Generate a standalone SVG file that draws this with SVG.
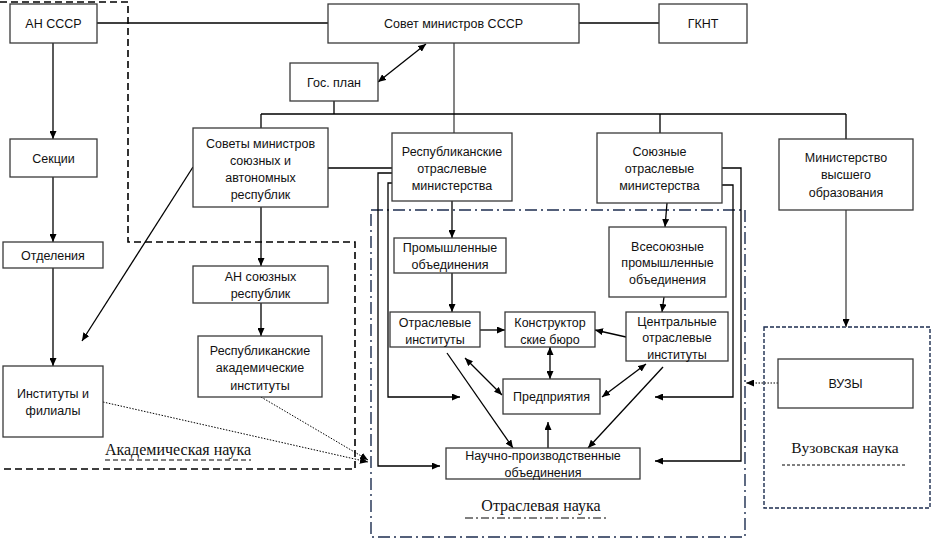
<svg xmlns="http://www.w3.org/2000/svg" width="931" height="539" viewBox="0 0 931 539">
<defs>
<marker id="a" markerUnits="userSpaceOnUse" markerWidth="8" markerHeight="7" refX="8" refY="3.5" orient="auto-start-reverse"><path d="M0,0 L8,3.5 L0,7 z" fill="#000"/></marker>
<style>
.b{fill:#fff;stroke:#3a3a3a;stroke-width:1.3}
.t{font-family:"Liberation Sans",Arial,sans-serif;font-size:12.5px;fill:#111;text-anchor:middle}
.s{font-family:"Liberation Serif","Times New Roman",serif;font-size:16px;fill:#111;text-anchor:middle}
.c{fill:none;stroke:#000;stroke-width:1.3}
.g{fill:none;stroke:#777;stroke-width:1.8}
.e{marker-end:url(#a)}
.d{marker-start:url(#a);marker-end:url(#a)}
.dot{fill:none;stroke:#000;stroke-width:1;stroke-dasharray:1.5 1.5}
</style>
</defs>
<rect width="931" height="539" fill="#fff"/>
<g id="regions">
<path d="M0 2 H128 V242 H355 V469 H0" fill="none" stroke="#000" stroke-width="1.6" stroke-dasharray="7 4"/>
<rect x="371" y="210" width="374" height="327" fill="none" stroke="#1c2d4f" stroke-width="1.4" stroke-dasharray="12 4 2 4"/>
<rect x="764" y="327" width="166" height="181" fill="none" stroke="#1c2d4f" stroke-width="1.4" stroke-dasharray="4 2"/>
<text class="s" x="178" y="455">Академическая наука</text>
<path d="M105 460 H251" fill="none" stroke="#000" stroke-width="1" stroke-dasharray="5 3"/>
<text class="s" x="541" y="511">Отраслевая наука</text>
<path d="M465 518 H607" fill="none" stroke="#000" stroke-width="1" stroke-dasharray="8 3 2 3"/>
<text class="s" x="845" y="453" style="font-size:15.5px">Вузовская наука</text>
<path d="M782 465 H905" fill="none" stroke="#000" stroke-width="1" stroke-dasharray="3 2"/>
</g>
<g id="connectors">
<path class="c" d="M97 23 H328"/>
<path class="c" d="M579 23 H659"/>
<path class="c d" d="M378 82 L426 44"/>
<path class="g" d="M454 43 V133"/>
<path class="c" d="M334 101 V114 M261 114 H846 M261 114 V128 M660 114 V133 M846 114 V139"/>
<path class="c" d="M328 168 H392"/>
<path class="c e" d="M53 43 V139"/>
<path class="c e" d="M53 177 V242"/>
<path class="c e" d="M53 268 V366"/>
<path class="c e" d="M193 167 L82 341"/>
<path class="c e" d="M261 207 V266"/>
<path class="c e" d="M261 303 V336"/>
<path class="dot e" d="M103 402 L368 462"/>
<path class="dot e" d="M261 397 L368 460"/>
<path class="c e" d="M392 173 H378 V466 H440"/>
<path class="c e" d="M392 183 H388 V397 H460"/>
<path class="c e" d="M452 201 V238"/>
<path class="c e" d="M452 273 V312"/>
<path class="c e" d="M480 330 H505"/>
<path class="c e" d="M626 337 L595 330"/>
<path class="c e" d="M667 203 L665 227"/>
<path class="c e" d="M664 297 L662 312"/>
<path class="c e" d="M722 168 H741 V461 H655"/>
<path class="c e" d="M722 185 H733 V397 H655"/>
<path class="c d" d="M550 347 V379"/>
<path class="c d" d="M465 358 L502 395"/>
<path class="c e" d="M447 353 L513 448"/>
<path class="c d" d="M646 364 L602 397"/>
<path class="c e" d="M663 367 L588 448"/>
<path class="c e" d="M548 448 V422"/>
<path class="g e" d="M846 210 V327"/>
<path class="dot e" d="M778 383 H746"/>
</g>
<g id="n-an-sssr"><rect class="b" x="10" y="4" width="87" height="39"/><text class="t" x="53.5" y="28">АН СССР</text></g>
<g id="n-sovet"><rect class="b" x="328" y="4" width="251" height="39"/><text class="t" x="453.5" y="28">Совет министров СССР</text></g>
<g id="n-gknt"><rect class="b" x="659" y="4" width="88" height="39"/><text class="t" x="703" y="28">ГКНТ</text></g>
<g id="n-gosplan"><rect class="b" x="290" y="63" width="88" height="38"/><text class="t" x="334" y="87">Гос. план</text></g>
<g id="n-sekcii"><rect class="b" x="10" y="139" width="87" height="38"/><text class="t" x="53.5" y="163">Секции</text></g>
<g id="n-otdeleniya"><rect class="b" x="3" y="242" width="100" height="26"/><text class="t" x="53" y="260">Отделения</text></g>
<g id="n-instituty"><rect class="b" x="3" y="366" width="100" height="71"/><text class="t" x="53" y="398">Институты и</text><text class="t" x="53" y="415">филиалы</text></g>
<g id="n-sovety"><rect class="b" x="193" y="128" width="135" height="79"/><text class="t" x="260.5" y="148">Советы министров</text><text class="t" x="260.5" y="165">союзных и</text><text class="t" x="260.5" y="182">автономных</text><text class="t" x="260.5" y="199">республик</text></g>
<g id="n-resp-min"><rect class="b" x="392" y="133" width="120" height="68"/><text class="t" x="452" y="156">Республиканские</text><text class="t" x="452" y="173">отраслевые</text><text class="t" x="452" y="190">министерства</text></g>
<g id="n-soyuz-min"><rect class="b" x="597" y="133" width="125" height="70"/><text class="t" x="659.5" y="156">Союзные</text><text class="t" x="659.5" y="173">отраслевые</text><text class="t" x="659.5" y="190">министерства</text></g>
<g id="n-minvuz"><rect class="b" x="779" y="139" width="134" height="71"/><text class="t" x="846" y="162">Министерство</text><text class="t" x="846" y="179">высшего</text><text class="t" x="846" y="197">образования</text></g>
<g id="n-an-soyuz"><rect class="b" x="193" y="266" width="135" height="37"/><text class="t" x="260.5" y="281">АН союзных</text><text class="t" x="260.5" y="298">республик</text></g>
<g id="n-resp-akad"><rect class="b" x="198" y="336" width="124" height="61"/><text class="t" x="260" y="355">Республиканские</text><text class="t" x="260" y="372">академические</text><text class="t" x="260" y="390">институты</text></g>
<g id="n-prom"><rect class="b" x="394" y="238" width="112" height="35"/><text class="t" x="450" y="252">Промышленные</text><text class="t" x="450" y="269">объединения</text></g>
<g id="n-vsesoyuz"><rect class="b" x="609" y="227" width="117" height="70"/><text class="t" x="667.5" y="251">Всесоюзные</text><text class="t" x="667.5" y="267">промышленные</text><text class="t" x="667.5" y="284">объединения</text></g>
<g id="n-otrasl-inst"><rect class="b" x="390" y="312" width="90" height="35"/><text class="t" x="435" y="327">Отраслевые</text><text class="t" x="435" y="344">институты</text></g>
<g id="n-konstr"><rect class="b" x="505" y="312" width="90" height="35"/><text class="t" x="550" y="327">Конструктор</text><text class="t" x="550" y="344">ские бюро</text></g>
<g id="n-central"><rect class="b" x="626" y="312" width="102" height="49"/><text class="t" x="677" y="326">Центральные</text><text class="t" x="677" y="342">отраслевые</text><text class="t" x="677" y="359">институты</text></g>
<g id="n-predpr"><rect class="b" x="503" y="379" width="97" height="35"/><text class="t" x="551.5" y="401">Предприятия</text></g>
<g id="n-npo"><rect class="b" x="446" y="448" width="194" height="31"/><text class="t" x="543" y="460">Научно-производственные</text><text class="t" x="543" y="477">объединения</text></g>
<g id="n-vuzy"><rect class="b" x="778" y="359" width="135" height="49"/><text class="t" x="845.5" y="388">ВУЗЫ</text></g>
</svg>
